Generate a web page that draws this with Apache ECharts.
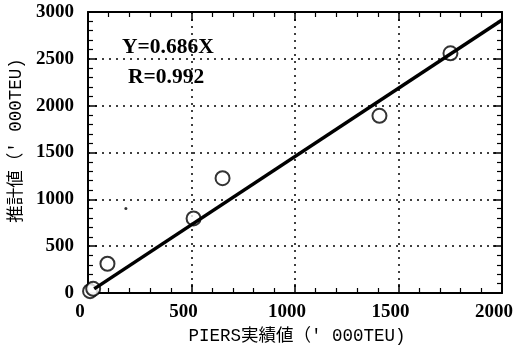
<!DOCTYPE html>
<html>
<head>
<meta charset="utf-8">
<script src="https://cdn.jsdelivr.net/npm/echarts@6/dist/echarts.min.js"></script>
<style>
  html, body { margin: 0; padding: 0; background: #fff; }
  #main { width: 515px; height: 354px; }
</style>
</head>
<body>
<div id="main"></div>
<script>
// PIERS実績値 vs 推計値 ('000TEU)
const actualValues = [10, 25, 94, 510, 650, 1408, 1751];
const estimateValues = [20, 45, 312, 796, 1226, 1892, 2559];
const strayDot = [[183, 903]];
const fitSlope = 1 / 0.686; // plotted line
const fitRange = [30, 2000];
const xTicks = [0, 500, 1000, 1500, 2000];
const yTicks = [0, 500, 1000, 1500, 2000, 2500, 3000];

const pairs = actualValues.map((x, i) => [x, estimateValues[i]]);
const fitLine = fitRange.map((x) => [x, x * fitSlope]);

const tickFont = {
  fontFamily: 'Liberation Serif',
  fontWeight: 'bold',
  fontSize: 19,
  color: '#000',
  formatter: (v) => String(v),
};

const nameFont = {
  fontFamily: "'Liberation Mono', 'Noto Sans CJK JP'",
  fontSize: 17.5,
  color: '#000',
};

const baseAxis = (min, max, ticks) => ({
  type: 'value',
  min,
  max,
  interval: ticks[1] - ticks[0],
  axisLine: { onZero: false, lineStyle: { color: '#000', width: 2 } },
  axisTick: { inside: true, length: 9, lineStyle: { color: '#000', width: 1.5 } },
  minorTick: { show: true, splitNumber: 5, length: 5, lineStyle: { color: '#000', width: 1.2 } },
});

const option = {
  animation: false,
  backgroundColor: '#fff',
  grid: { left: 88, right: 13, top: 12, bottom: 61, outerBoundsMode: 'none' },
  xAxis: [
    {
      ...baseAxis(0, 2000, xTicks),
      position: 'bottom',
      name: "PIERS実績値（' 000TEU)",
      nameLocation: 'middle',
      nameGap: 35,
      nameTextStyle: { ...nameFont, padding: [0, 0, 0, 4] },
      axisLabel: { ...tickFont, margin: 10, padding: [0, 16, 0, 0] },
      splitLine: { show: true, lineStyle: { color: '#000', width: 1.5, type: [2, 5] } },
    },
    {
      ...baseAxis(0, 2000, xTicks),
      position: 'top',
      axisLabel: { show: false },
      splitLine: { show: false },
    },
  ],
  yAxis: [
    {
      ...baseAxis(0, 3000, yTicks),
      position: 'left',
      name: "推計値（' 000TEU)",
      nameLocation: 'middle',
      nameGap: 62,
      nameTextStyle: { ...nameFont, padding: [0, 0, 0, 24] },
      axisLabel: { ...tickFont, margin: 14 },
      splitLine: { show: true, lineStyle: { color: '#000', width: 1.5, type: [2, 5] } },
    },
    {
      ...baseAxis(0, 3000, yTicks),
      position: 'right',
      axisLabel: { show: false },
      splitLine: { show: false },
    },
  ],
  graphic: [
    {
      type: 'text',
      left: 122,
      top: 36,
      style: { text: 'Y=0.686X', fontFamily: 'Liberation Serif', fontWeight: 'bold', fontSize: 21.5, fill: '#000' },
    },
    {
      type: 'text',
      left: 128,
      top: 66,
      style: { text: 'R=0.992', fontFamily: 'Liberation Serif', fontWeight: 'bold', fontSize: 21.5, fill: '#000' },
    },
  ],
  series: [
    {
      type: 'scatter',
      data: pairs,
      symbol: 'emptyCircle',
      symbolSize: 14,
      itemStyle: { color: '#000', borderColor: '#000', borderWidth: 1.5 },
      z: 2,
    },
    {
      type: 'scatter',
      data: strayDot,
      symbol: 'circle',
      symbolSize: 3,
      itemStyle: { color: '#000' },
      z: 2,
    },
    {
      type: 'line',
      data: fitLine,
      showSymbol: false,
      lineStyle: { color: '#000', width: 3.5 },
      z: 3,
    },
  ],
};

const myChart = echarts.init(document.getElementById('main'));
myChart.setOption(option);
</script>
</body>
</html>
